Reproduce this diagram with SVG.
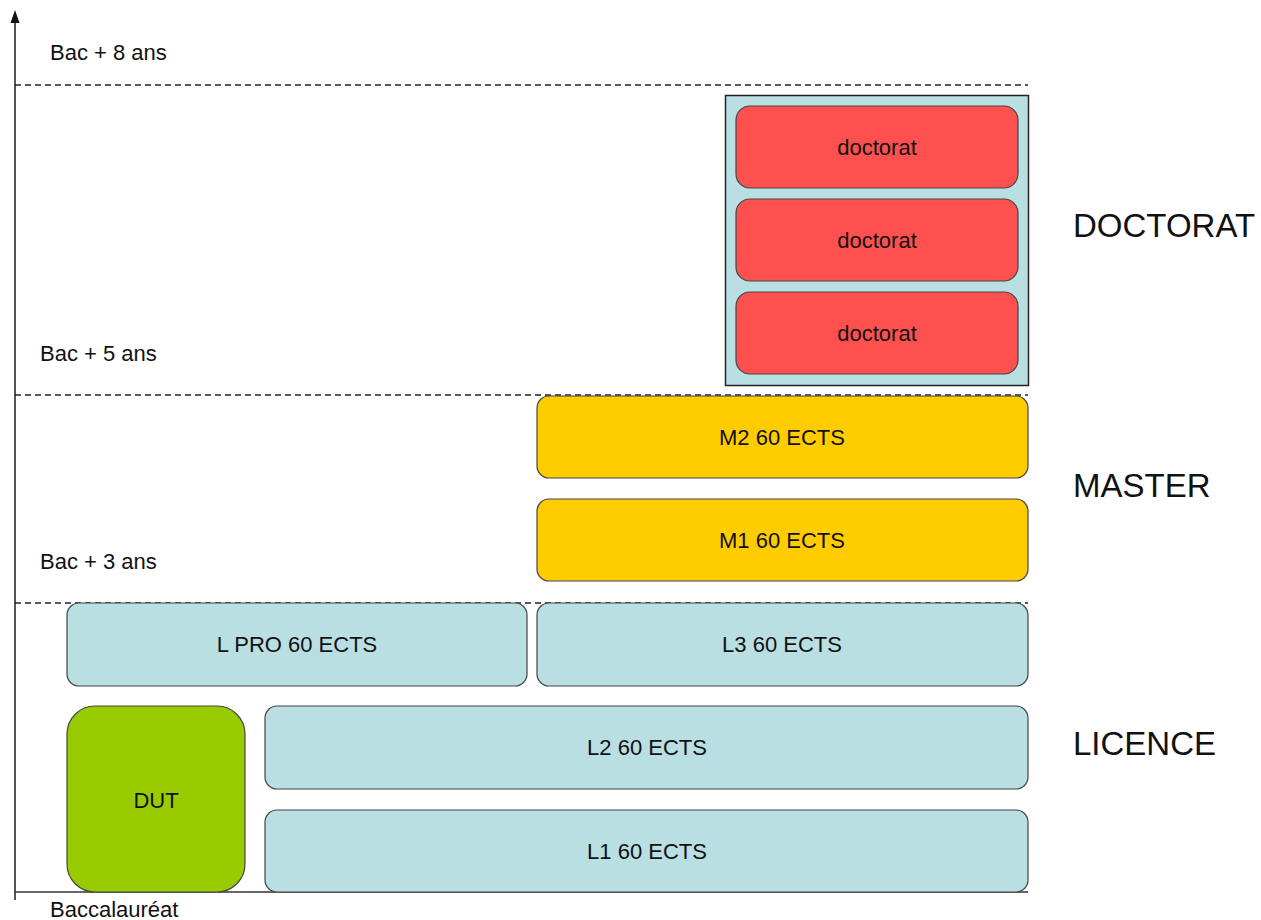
<svg xmlns="http://www.w3.org/2000/svg" width="1261" height="920" viewBox="0 0 1261 920">
<style>
text{font-family:"Liberation Sans",Arial,sans-serif;fill:#111}
.lbl{font-size:22px;text-anchor:middle}
.axl{font-size:22px}
.big{font-size:33px}
.box{stroke:#444;stroke-width:1.2}
.blue{fill:#B9DFE3}
.red{fill:#FF5050}
.yel{fill:#FFCC00}
.grn{fill:#99CC00}
.dash{stroke:#222;stroke-width:1.3;stroke-dasharray:6,4;fill:none}
</style>
<rect width="1261" height="920" fill="#fff"/>
<g id="axes">
<line x1="15" y1="18" x2="15" y2="900" stroke="#555" stroke-width="2"/>
<polygon points="15,10 10.5,23 19.5,23" fill="#111"/>
<line x1="15" y1="892" x2="1028" y2="892" stroke="#333" stroke-width="1.5"/>
<line class="dash" x1="15" y1="85" x2="1028" y2="85"/>
<line class="dash" x1="15" y1="395" x2="1028" y2="395"/>
<line class="dash" x1="15" y1="603" x2="1028" y2="603"/>
<text class="axl" x="50" y="60">Bac + 8 ans</text>
<text class="axl" x="40" y="361">Bac + 5 ans</text>
<text class="axl" x="40" y="569">Bac + 3 ans</text>
<text class="axl" x="50" y="917">Baccalauréat</text>
</g>
<g id="connectors"></g>
<g id="doctorat-group">
<rect x="725.5" y="95.5" width="303" height="290" fill="#B9DFE3" stroke="#222" stroke-width="1.5"/>
</g>
<g id="doc1"><rect class="box red" x="736" y="106" width="282" height="82" rx="14"/><text class="lbl" x="877" y="155">doctorat</text></g>
<g id="doc2"><rect class="box red" x="736" y="199" width="282" height="82" rx="14"/><text class="lbl" x="877" y="248">doctorat</text></g>
<g id="doc3"><rect class="box red" x="736" y="292" width="282" height="82" rx="14"/><text class="lbl" x="877" y="341">doctorat</text></g>
<g id="m2"><rect class="box yel" x="537" y="396" width="491" height="82" rx="12"/><text class="lbl" x="782" y="445">M2 60 ECTS</text></g>
<g id="m1"><rect class="box yel" x="537" y="499" width="491" height="82" rx="12"/><text class="lbl" x="782" y="548">M1 60 ECTS</text></g>
<g id="lpro"><rect class="box blue" x="67" y="603" width="460" height="83" rx="12"/><text class="lbl" x="297" y="652">L PRO 60 ECTS</text></g>
<g id="l3"><rect class="box blue" x="537" y="603" width="491" height="83" rx="12"/><text class="lbl" x="782" y="652">L3 60 ECTS</text></g>
<g id="l2"><rect class="box blue" x="265" y="706" width="763" height="83" rx="12"/><text class="lbl" x="647" y="755">L2 60 ECTS</text></g>
<g id="l1"><rect class="box blue" x="265" y="810" width="763" height="82" rx="12"/><text class="lbl" x="647" y="859">L1 60 ECTS</text></g>
<g id="dut"><rect class="box grn" x="67" y="706" width="178" height="186" rx="28"/><text class="lbl" x="156" y="808">DUT</text></g>
<g id="levels">
<text class="big" x="1073" y="237">DOCTORAT</text>
<text class="big" x="1073" y="497">MASTER</text>
<text class="big" x="1073" y="755">LICENCE</text>
</g>
</svg>
